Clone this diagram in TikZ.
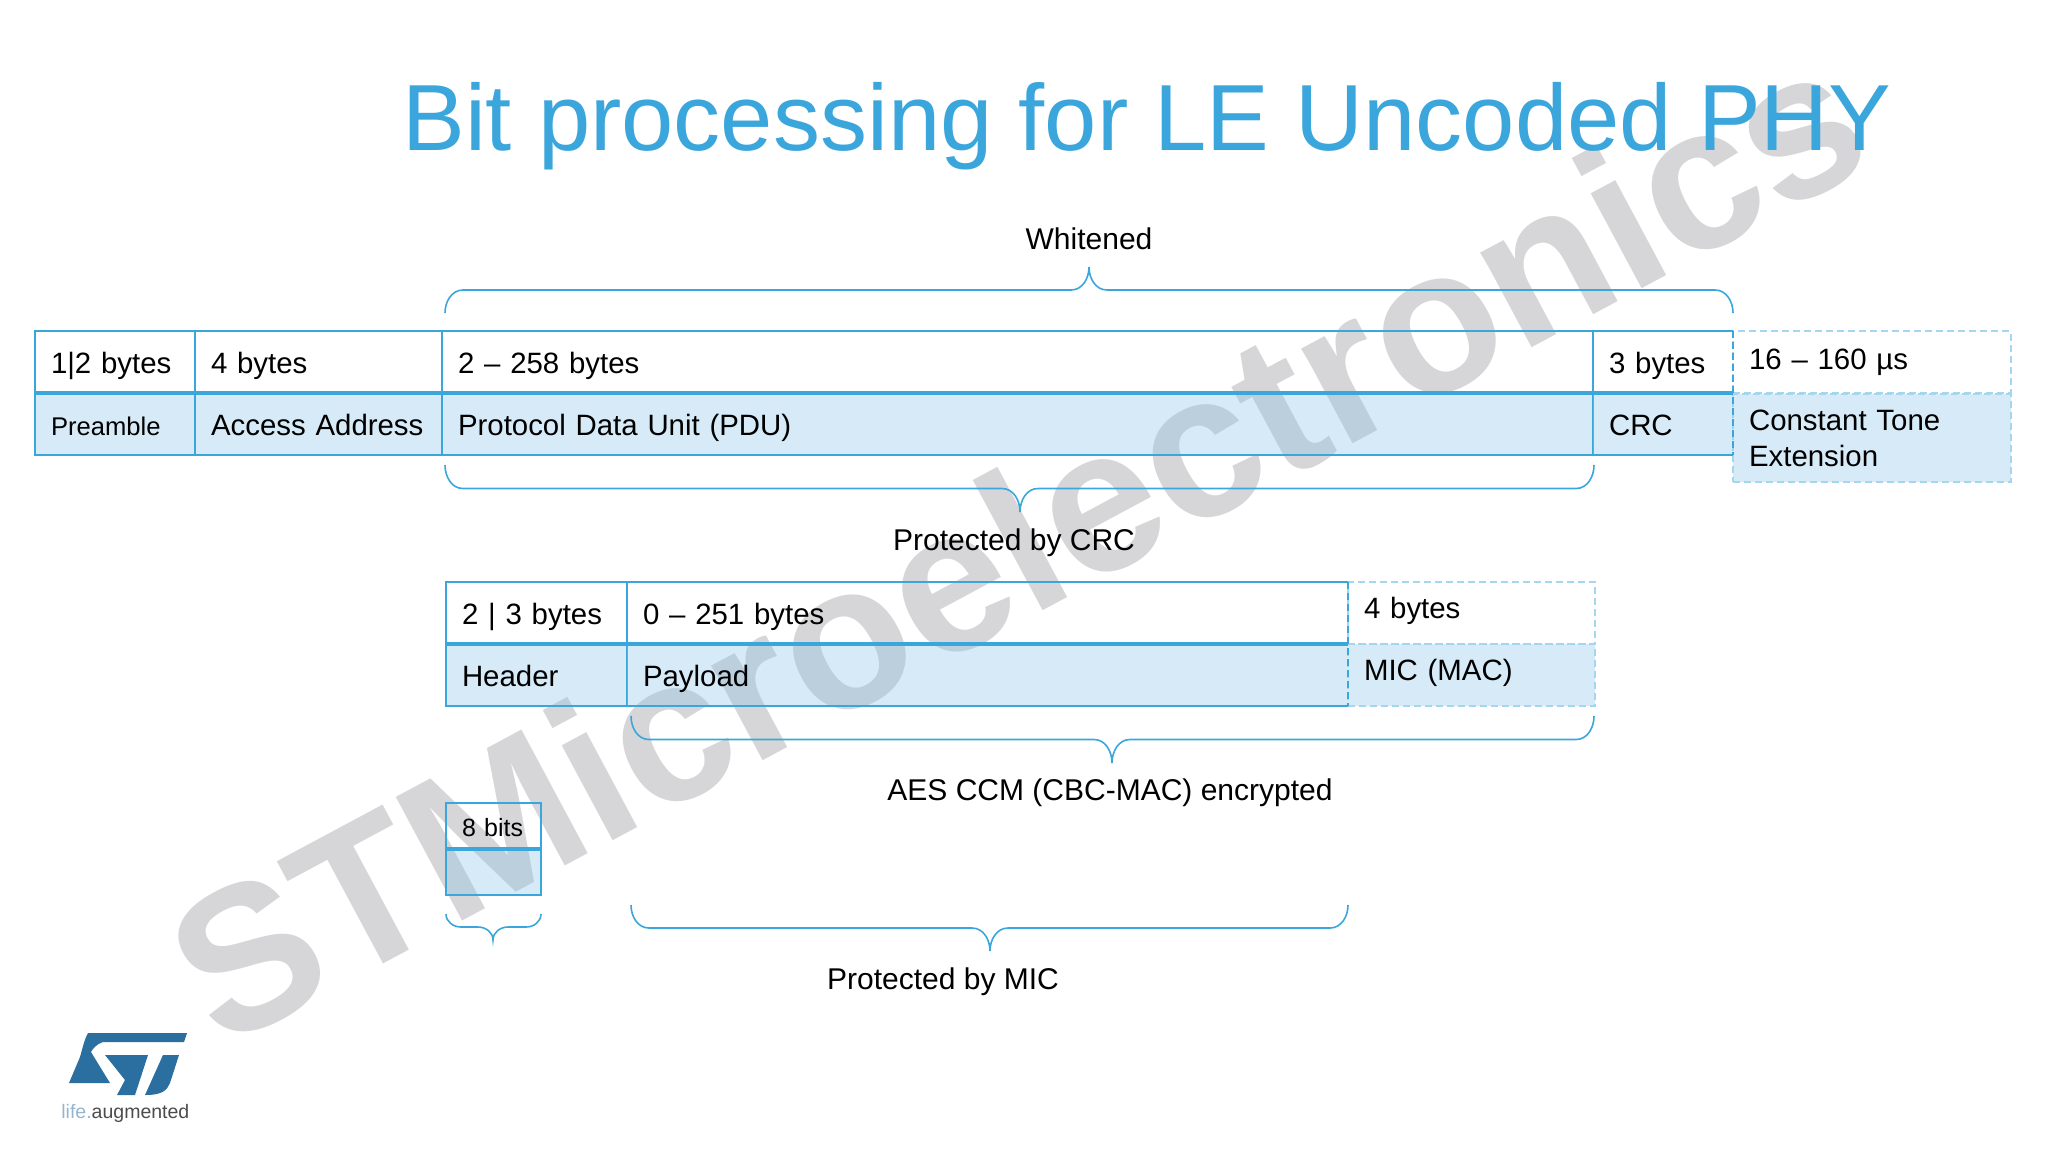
\documentclass[tikz,border=0pt]{standalone}
\usepackage{fontspec}
\setmainfont{Liberation Sans}
\usetikzlibrary{calc}
\definecolor{stblue}{HTML}{3BA6DC}
\definecolor{cellfill}{HTML}{8AC3E8}
\definecolor{dashblue}{HTML}{A4D6EE}
\definecolor{logoblue}{HTML}{2A6F9F}
\definecolor{markgray}{HTML}{D6D6D8}
\tikzset{
	cell/.style={draw=stblue,line width=1pt,anchor=north west,outer sep=0pt,inner xsep=8pt,inner ysep=0pt,minimum height=31pt,text height=11.8pt,text depth=0pt,align=left,font=\fontsize{14.7}{18}\selectfont},
	nocell/.style={cell,draw=none},
	shade/.style={fill=cellfill,fill opacity=0.35,text opacity=1},
	dashcell/.style={cell,draw=dashblue,dash pattern=on 3.5pt off 2pt},
	midline/.style={draw=stblue,line width=1.8pt},
	edgeline/.style={draw=stblue,line width=1pt},
	dashline/.style={draw=stblue,line width=1pt,dash pattern=on 3.5pt off 2pt},
	bracket/.style={draw=stblue,line width=0.8pt},
	lbl/.style={font=\fontsize{15}{18}\selectfont,inner sep=0pt,anchor=base}
}
% left end, tip, right end, width and height of a shoulder
\newcommand{\upbrace}[5]{\draw [bracket] (#1) to[out=90,in=180] ($(#1)+(#4,-#5)$) -- ($(#2)+(-#4,#5)$) to[out=0,in=-90] (#2) to[out=-90,in=180] ($(#2)+(#4,#5)$) -- ($(#3)+(-#4,-#5)$) to[out=0,in=90] (#3);}
\newcommand{\downbrace}[5]{\draw [bracket] (#1) to[out=-90,in=180] ($(#1)+(#4,#5)$) -- ($(#2)+(-#4,-#5)$) to[out=0,in=90] (#2) to[out=90,in=180] ($(#2)+(#4,-#5)$) -- ($(#3)+(-#4,#5)$) to[out=0,in=-90] (#3);}
\begin{document}
\begin{tikzpicture}[x=0.5pt,y=-0.5pt]
	\useasboundingbox (0,0) rectangle (2048,1152);
	% watermark lies under everything else
	\node [rotate=28.2,text=markgray,inner sep=0pt,font=\fontsize{102}{102}\bfseries\selectfont] (mark) at (1016,542) {STMicroelectronics};
	\node [anchor=base west,inner sep=0pt,text=stblue,font=\fontsize{47}{50}\selectfont] (title) at (402,150) {Bit processing for LE Uncoded PHY};
	% dashed cells go first, the solid ones lie over them
	\node [dashcell,text depth=4.3pt,text width=122.75pt] (ctetop) at (1733,331) {16 – 160 µs};
	\node [dashcell,shade,text depth=19.3pt,text width=122.75pt,minimum height=44pt] (ctebot) at (1733,394) {Constant Tone\\Extension};
	\node [dashcell,text depth=6.3pt,text width=107.5pt] (mictop) at (1348,582) {4 bytes};
	\node [dashcell,shade,text depth=6.3pt,text width=107.5pt] (micbot) at (1348,644) {MIC (MAC)};
	% main packet
	\node [cell,text width=64pt] (pretop) at (35,331) {1|2 bytes};
	\node [cell,text width=107.5pt] (aatop) at (195,331) {4 bytes};
	\node [cell,text width=559.5pt] (pdutop) at (442,331) {2 – 258 bytes};
	\node [nocell,text width=54pt] (crctop) at (1593,331) {3 bytes};
	\node [cell,shade,text width=64pt,font=\fontsize{12.8}{15}\selectfont] (prebot) at (35,393) {Preamble};
	\node [cell,shade,text width=107.5pt] (aabot) at (195,393) {Access Address};
	\node [cell,shade,text width=559.5pt] (pdubot) at (442,393) {Protocol Data Unit (PDU)};
	\node [nocell,shade,text width=54pt] (crcbot) at (1593,393) {CRC};
	% pdu
	\node [cell,text width=74.5pt] (hdrtop) at (446,582) {2 | 3 bytes};
	\node [nocell,text width=344.5pt] (pldtop) at (627,582) {0 – 251 bytes};
	\node [cell,shade,text width=74.5pt] (hdrbot) at (446,644) {Header};
	\node [nocell,shade,text width=344.5pt] (pldbot) at (627,644) {Payload};
	% header byte
	\node [cell,text width=31.5pt,minimum height=23pt,text height=10pt,font=\fontsize{12.5}{15}\selectfont] (bittop) at (446,803) {8 bits};
	\node [cell,shade,text width=31.5pt,minimum height=23pt] (bitbot) at (446,849) {};
	% lines the cells leave open
	\draw [edgeline] (crctop.north west) -- (crctop.north east) (crcbot.south west) -- (crcbot.south east);
	\draw [edgeline] (pldtop.north west) -- (pldtop.north east) (pldbot.south west) -- (pldbot.south east);
	\draw [dashline] (ctetop.north west) -- (crcbot.south east);
	\draw [dashline] (mictop.north west) -- (micbot.south west);
	\draw [midline] (pretop.south west) -- (crctop.south east);
	\draw [midline] (hdrtop.south west) -- (pldtop.south east);
	\draw [midline] (bittop.south west) -- (bittop.south east);
	% ends and tips of the braces
	\coordinate (whl) at (445,313);
	\coordinate (wht) at (1089,267);
	\coordinate (whr) at (1733,313);
	\coordinate (crl) at (445,465);
	\coordinate (crt) at (1020,512);
	\coordinate (crr) at (1594,465);
	\coordinate (aesl) at (631,716);
	\coordinate (aest) at (1112,763);
	\coordinate (aesr) at (1594,716);
	\coordinate (bitl) at (446,914);
	\coordinate (bitt) at (493,940);
	\coordinate (bitr) at (541,914);
	\coordinate (micl) at (631,905);
	\coordinate (mict) at (990,951);
	\coordinate (micr) at (1348,905);
	\upbrace{whl}{wht}{whr}{18}{23}
	\downbrace{crl}{crt}{crr}{18}{23.5}
	\downbrace{aesl}{aest}{aesr}{18}{23.5}
	\downbrace{bitl}{bitt}{bitr}{15}{13}
	\downbrace{micl}{mict}{micr}{18}{23}
	\node [lbl] (whitened) at (1089,249) {Whitened};
	\node [lbl] (crclbl) at (1014,550) {Protected by CRC};
	\node [lbl] (aeslbl) at (1110,800) {AES CCM (CBC-MAC) encrypted};
	\node [lbl] (miclbl) at (943,989) {Protected by MIC};
	% logo
	\fill [logoblue] (88,1033) -- (187,1033) -- (184,1042) -- (103,1042) .. controls (96,1044) and (92,1050) .. (91,1052) -- (110,1083) -- (69,1083) -- (80,1057) .. controls (83,1046) and (85,1038) .. cycle;
	\fill [logoblue] (105,1055) -- (148,1055) -- (135,1095) -- (117,1095) -- (125,1080) -- cycle;
	\fill [logoblue] (163,1055) -- (179,1055) -- (170,1083) .. controls (167,1090) and (163,1095) .. (145,1095) -- cycle;
	\node [anchor=base west,inner sep=0pt,font=\fontsize{9.75}{10}\selectfont] (lifetxt) at (61,1118) {\textcolor{logoblue!50}{life.}\textcolor{black!70}{augmented}};
\end{tikzpicture}
\end{document}
